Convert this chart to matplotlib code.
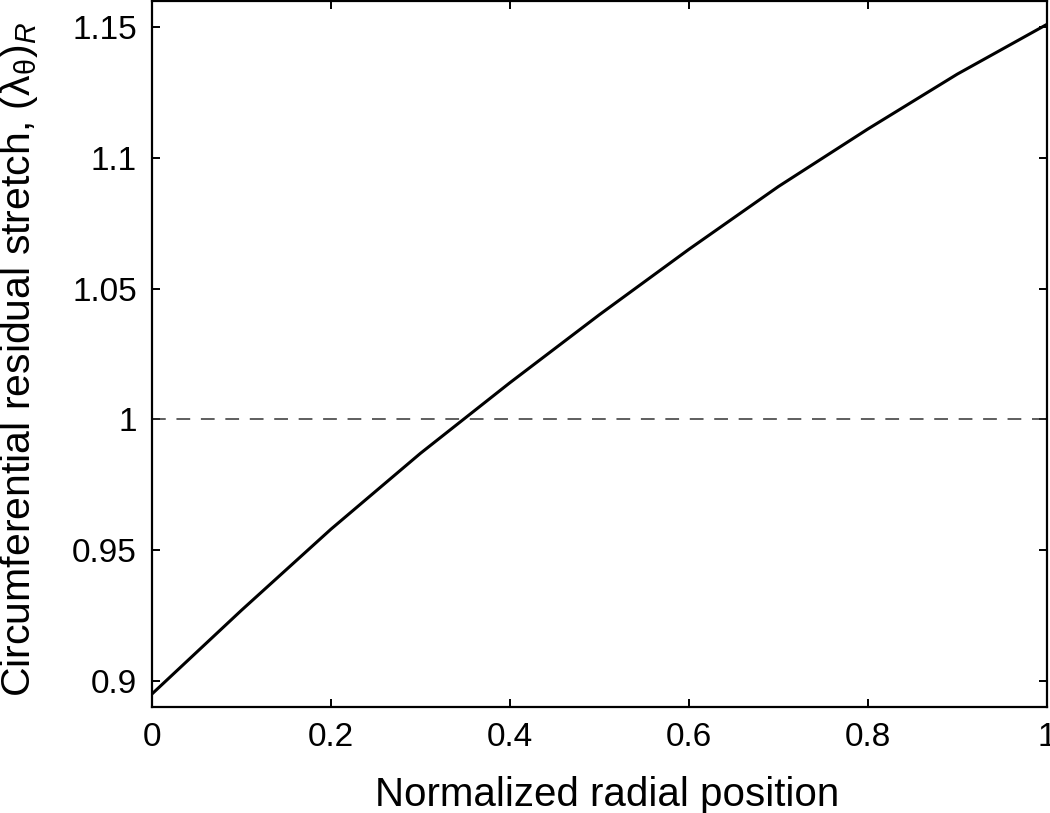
import matplotlib
matplotlib.use('Agg')
import matplotlib.pyplot as plt
import numpy as np

# values
radial_pos = [0.0, 0.05, 0.1, 0.15, 0.2, 0.25, 0.3, 0.35, 0.4, 0.45, 0.5,
              0.55, 0.6, 0.65, 0.7, 0.75, 0.8, 0.85, 0.9, 0.95, 1.0]
stretch = [0.895, 0.911, 0.927, 0.9425, 0.958, 0.9725, 0.987, 1.0005, 1.014, 1.027, 1.040,
           1.0525, 1.065, 1.077, 1.089, 1.100, 1.111, 1.1215, 1.132, 1.1415, 1.151]
xticks = [0, 0.2, 0.4, 0.6, 0.8, 1]
xticklabels = ['0', '0.2', '0.4', '0.6', '0.8', '1']
yticks = [0.9, 0.95, 1.0, 1.05, 1.1, 1.15]
yticklabels = ['0.9', '0.95', '1', '1.05', '1.1', '1.15']

plt.rcParams['font.family'] = ['Liberation Sans', 'DejaVu Sans']
plt.rcParams['mathtext.fontset'] = 'custom'
plt.rcParams['mathtext.rm'] = 'Liberation Sans'
plt.rcParams['mathtext.it'] = 'Liberation Sans:italic'

fig = plt.figure(figsize=(10.5, 8.13), dpi=100)
ax = fig.add_axes([0.1448, 0.1304, 0.852, 0.8684])

ax.plot(radial_pos, stretch, color='black', linewidth=2.2)
ax.axhline(1.0, color='#333333', linewidth=1.1, linestyle=(0, (9, 7)))

ax.set_xlim(0, 1)
ax.set_ylim(0.890, 1.160)
ax.set_xticks(xticks)
ax.set_xticklabels(xticklabels)
ax.set_yticks(yticks)
ax.set_yticklabels(yticklabels)
ax.tick_params(direction='in', length=6, width=1.4, labelsize=24,
               top=True, right=True, pad=11)
for s in ax.spines.values():
    s.set_linewidth(1.6)

ax.set_xlabel('Normalized radial position', fontsize=29)
ax.set_ylabel(r'Circumferential residual stretch, $(\mathrm{\lambda}_{\mathrm{\theta}})_{R}$',
              fontsize=29.5)
ax.xaxis.set_label_coords(0.509, -0.098)
ax.yaxis.set_label_coords(-0.125, 0.493)

fig.savefig('out.png', dpi=100)
